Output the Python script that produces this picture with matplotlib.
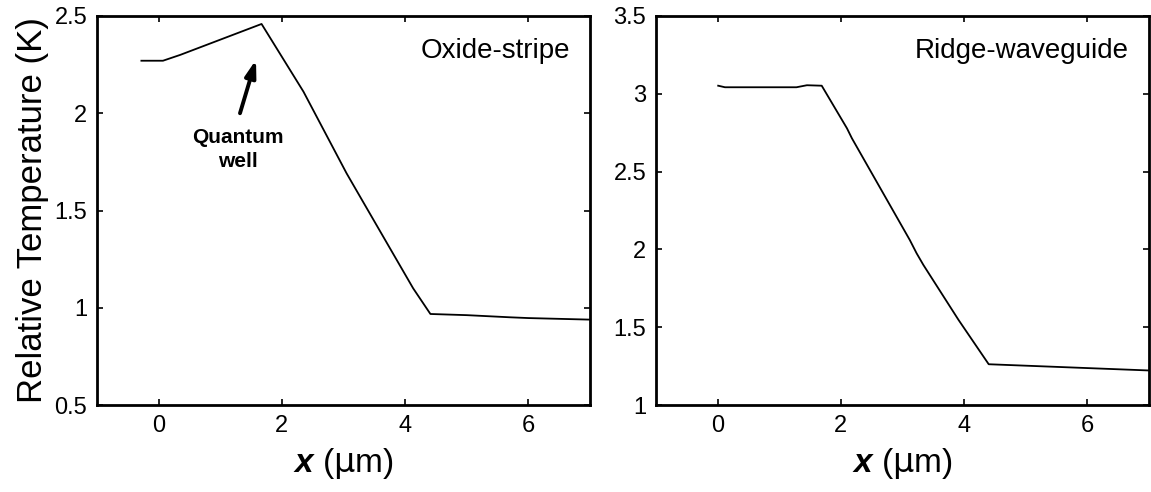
import matplotlib
matplotlib.use("Agg")
import matplotlib.pyplot as plt

plt.rcParams['font.family'] = ['Liberation Sans', 'DejaVu Sans']
plt.rcParams['mathtext.fontset'] = 'custom'
plt.rcParams['mathtext.bfit'] = 'Liberation Sans:bold:italic'

# Oxide-stripe laser: temperature profile along x
oxide_x = [-0.28, 0.07, 0.35, 1.67, 2.35, 3.05, 3.30, 4.13, 4.41, 5.0, 5.7, 6.0, 7.0]
oxide_t = [2.27, 2.27, 2.30, 2.459, 2.111, 1.691, 1.554, 1.10, 0.968, 0.962, 0.951, 0.947, 0.939]

# Ridge-waveguide laser: temperature profile along x
ridge_x = [0.01, 0.12, 1.28, 1.45, 1.69, 2.10, 2.18, 3.12, 3.23, 3.34, 3.91, 4.40, 7.0]
ridge_t = [3.052, 3.042, 3.042, 3.055, 3.052, 2.778, 2.714, 2.06, 1.975, 1.90, 1.547, 1.262, 1.222]

x_ticks = [0, 2, 4, 6]
oxide_yticks = [0.5, 1, 1.5, 2, 2.5]
oxide_yticklabels = ['0.5', '1', '1.5', '2', '2.5']
ridge_yticks = [1, 1.5, 2, 2.5, 3, 3.5]
ridge_yticklabels = ['1', '1.5', '2', '2.5', '3', '3.5']

fig = plt.figure(figsize=(11.51, 4.92), dpi=100)
ax1 = fig.add_axes([0.0843, 0.1768, 0.4283, 0.7907])
ax2 = fig.add_axes([0.5699, 0.1768, 0.4283, 0.7907])


def style(ax, yticks, ylabels, ylim):
    ax.set_xlim(-1, 7)
    ax.set_ylim(*ylim)
    ax.set_xticks(x_ticks)
    ax.set_xticklabels([str(t) for t in x_ticks])
    ax.set_yticks(yticks)
    ax.set_yticklabels(ylabels)
    ax.tick_params(direction='in', length=4, width=1.2, top=True, right=True,
                   labelsize=17, pad=7)
    for s in ax.spines.values():
        s.set_linewidth(2.0)
    ax.set_xlabel(r'$\mathbfit{x}$ ($\mathrm{\mu}$m)', fontsize=24, labelpad=7)


ax1.plot(oxide_x, oxide_t, color='black', lw=1.3)
style(ax1, oxide_yticks, oxide_yticklabels, (0.5, 2.5))
ax1.set_ylabel('Relative Temperature (K)', fontsize=25, labelpad=4)
ax1.text(0.96, 0.91, 'Oxide-stripe', transform=ax1.transAxes, ha='right',
         va='center', fontsize=20)
ax1.annotate('', xy=(1.58, 2.275), xytext=(1.32, 2.0),
             arrowprops=dict(arrowstyle='-|>,head_length=1.0,head_width=0.32',
                             color='black', lw=2.8, shrinkA=0, shrinkB=0))
ax1.text(1.28, 1.814, 'Quantum\nwell', ha='center', va='center',
         fontsize=15, fontweight='bold', linespacing=1.3)

ax2.plot(ridge_x, ridge_t, color='black', lw=1.3)
style(ax2, ridge_yticks, ridge_yticklabels, (1, 3.5))
ax2.text(0.96, 0.91, 'Ridge-waveguide', transform=ax2.transAxes, ha='right',
         va='center', fontsize=20)

fig.savefig('out.png', dpi=100)
